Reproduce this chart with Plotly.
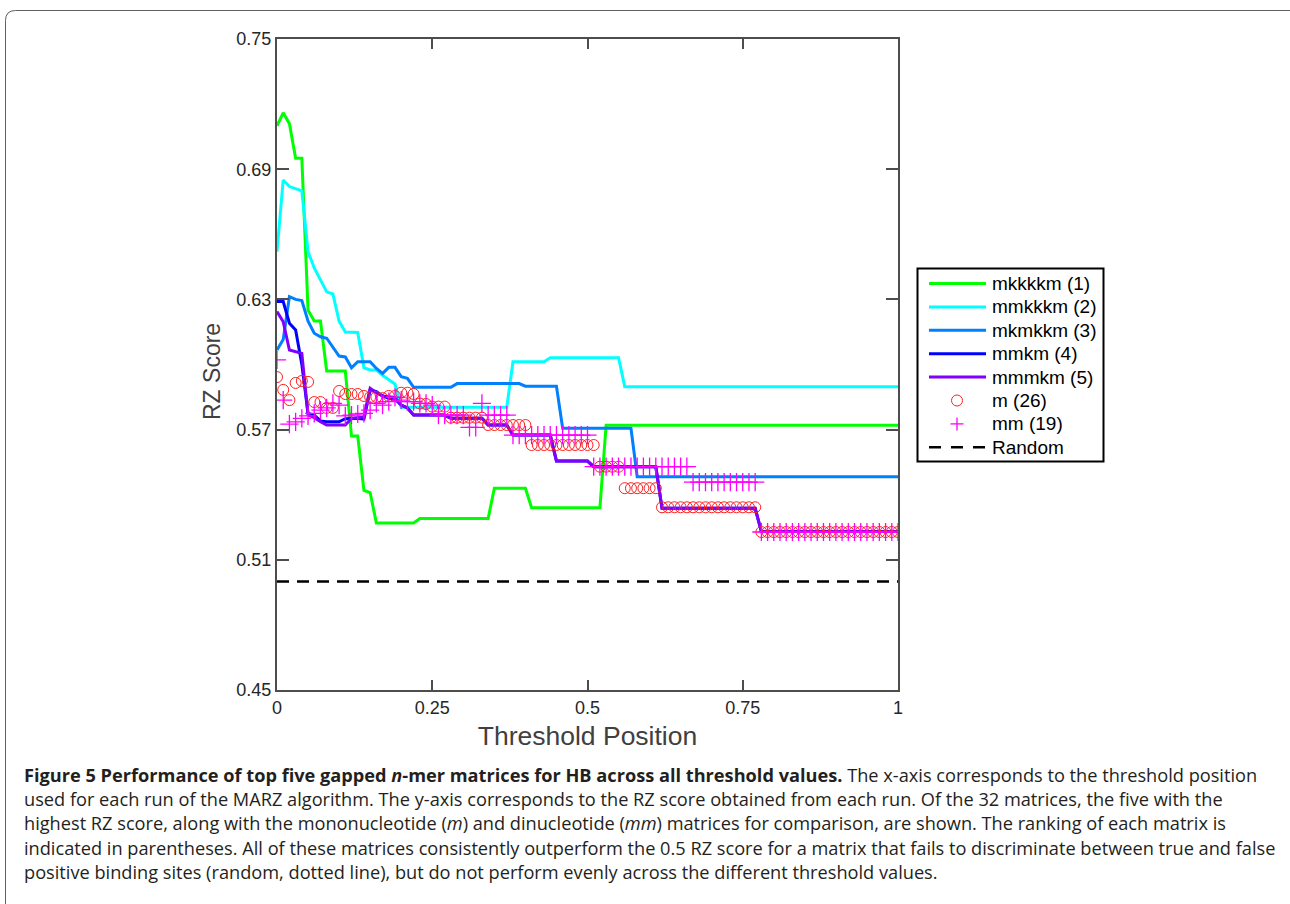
import plotly.graph_objects as go

# Threshold positions (x grid, 0.00 .. 1.00 in steps of 0.01)
threshold = [round(i / 100, 2) for i in range(101)]

# RZ score per threshold position for each matrix
mkkkkm = [
    0.710, 0.716, 0.711, 0.695, 0.695, 0.625, 0.620, 0.620, 0.597, 0.597,
    0.597, 0.597, 0.567, 0.567, 0.542, 0.541, 0.527, 0.527, 0.527, 0.527,
    0.527, 0.527, 0.527, 0.529, 0.529, 0.529, 0.529, 0.529, 0.529, 0.529,
    0.529, 0.529, 0.529, 0.529, 0.529, 0.543, 0.543, 0.543, 0.543, 0.543,
    0.543, 0.534, 0.534, 0.534, 0.534, 0.534, 0.534, 0.534, 0.534, 0.534,
    0.534, 0.534, 0.534, 0.572, 0.572, 0.572, 0.572, 0.572, 0.572, 0.572,
    0.572, 0.572, 0.572, 0.572, 0.572, 0.572, 0.572, 0.572, 0.572, 0.572,
    0.572, 0.572, 0.572, 0.572, 0.572, 0.572, 0.572, 0.572, 0.572, 0.572,
    0.572, 0.572, 0.572, 0.572, 0.572, 0.572, 0.572, 0.572, 0.572, 0.572,
    0.572, 0.572, 0.572, 0.572, 0.572, 0.572, 0.572, 0.572, 0.572, 0.572,
    0.572,
]

mmkkkm = [
    0.652, 0.685, 0.682, 0.681, 0.680, 0.652, 0.6445, 0.639, 0.6335, 0.6325,
    0.620, 0.615, 0.615, 0.6148, 0.5985, 0.5975, 0.5975, 0.595, 0.593, 0.591,
    0.5803, 0.5803, 0.5803, 0.5803, 0.5803, 0.5803, 0.5803, 0.5803, 0.5803, 0.5803,
    0.5803, 0.5803, 0.5803, 0.5803, 0.5803, 0.5803, 0.5803, 0.5803, 0.6013, 0.6013,
    0.6013, 0.6013, 0.6013, 0.6013, 0.6031, 0.6031, 0.6031, 0.6031, 0.6031, 0.6031,
    0.6031, 0.6031, 0.6031, 0.6031, 0.6031, 0.6031, 0.5898, 0.5898, 0.5898, 0.5898,
    0.5898, 0.5898, 0.5898, 0.5898, 0.5898, 0.5898, 0.5898, 0.5898, 0.5898, 0.5898,
    0.5898, 0.5898, 0.5898, 0.5898, 0.5898, 0.5898, 0.5898, 0.5898, 0.5898, 0.5898,
    0.5898, 0.5898, 0.5898, 0.5898, 0.5898, 0.5898, 0.5898, 0.5898, 0.5898, 0.5898,
    0.5898, 0.5898, 0.5898, 0.5898, 0.5898, 0.5898, 0.5898, 0.5898, 0.5898, 0.5898,
    0.5898,
]

mkmkkm = [
    0.6067, 0.6115, 0.6313, 0.6300, 0.6295, 0.6200, 0.6144, 0.6128, 0.6121, 0.6080,
    0.6039, 0.6035, 0.5985, 0.6013, 0.6013, 0.6013, 0.5982, 0.5959, 0.5987, 0.5987,
    0.5944, 0.5936, 0.5895, 0.5895, 0.5895, 0.5895, 0.5895, 0.5895, 0.5895, 0.5912,
    0.5912, 0.5912, 0.5912, 0.5912, 0.5912, 0.5912, 0.5912, 0.5912, 0.5912, 0.5912,
    0.5900, 0.5900, 0.5900, 0.5900, 0.5900, 0.5900, 0.5706, 0.5706, 0.5706, 0.5706,
    0.5706, 0.5706, 0.5706, 0.5706, 0.5706, 0.5706, 0.5706, 0.5706, 0.5483, 0.5483,
    0.5483, 0.5483, 0.5483, 0.5483, 0.5483, 0.5483, 0.5483, 0.5483, 0.5483, 0.5483,
    0.5483, 0.5483, 0.5483, 0.5483, 0.5483, 0.5483, 0.5483, 0.5483, 0.5483, 0.5483,
    0.5483, 0.5483, 0.5483, 0.5483, 0.5483, 0.5483, 0.5483, 0.5483, 0.5483, 0.5483,
    0.5483, 0.5483, 0.5483, 0.5483, 0.5483, 0.5483, 0.5483, 0.5483, 0.5483, 0.5483,
    0.5483,
]

mmkm = [
    0.629, 0.629, 0.619, 0.6159, 0.600, 0.5775, 0.5767, 0.5740, 0.5736, 0.5736,
    0.5736, 0.5750, 0.5752, 0.5752, 0.5748, 0.5883, 0.5875, 0.5855, 0.5844, 0.5840,
    0.5813, 0.5800, 0.5767, 0.5767, 0.5767, 0.5767, 0.5767, 0.5767, 0.5752, 0.5752,
    0.5752, 0.5752, 0.5752, 0.5752, 0.5721, 0.5721, 0.5721, 0.5721, 0.5675, 0.5675,
    0.5675, 0.5675, 0.5675, 0.5675, 0.5675, 0.5555, 0.5555, 0.5555, 0.5555, 0.5555,
    0.5555, 0.5529, 0.5529, 0.5529, 0.5529, 0.5529, 0.5529, 0.5529, 0.5529, 0.5529,
    0.5529, 0.5529, 0.5337, 0.5337, 0.5337, 0.5337, 0.5337, 0.5337, 0.5337, 0.5337,
    0.5337, 0.5337, 0.5337, 0.5337, 0.5337, 0.5337, 0.5337, 0.5337, 0.5230, 0.5230,
    0.5230, 0.5230, 0.5230, 0.5230, 0.5230, 0.5230, 0.5230, 0.5230, 0.5230, 0.5230,
    0.5230, 0.5230, 0.5230, 0.5230, 0.5230, 0.5230, 0.5230, 0.5230, 0.5230, 0.5230,
    0.5230,
]

mmmkm = [
    0.6244, 0.6197, 0.6067, 0.6060, 0.6051, 0.5767, 0.5755, 0.5736, 0.5721, 0.5721,
    0.5721, 0.5721, 0.5752, 0.5755, 0.5759, 0.5890, 0.5870, 0.5855, 0.5850, 0.5848,
    0.5813, 0.5800, 0.5767, 0.5767, 0.5767, 0.5767, 0.5767, 0.5767, 0.5752, 0.5752,
    0.5752, 0.5752, 0.5752, 0.5752, 0.5721, 0.5721, 0.5721, 0.5721, 0.5675, 0.5675,
    0.5675, 0.5675, 0.5675, 0.5675, 0.5675, 0.5555, 0.5555, 0.5555, 0.5555, 0.5555,
    0.5555, 0.5529, 0.5529, 0.5529, 0.5529, 0.5529, 0.5529, 0.5529, 0.5529, 0.5529,
    0.5529, 0.5529, 0.5337, 0.5337, 0.5337, 0.5337, 0.5337, 0.5337, 0.5337, 0.5337,
    0.5337, 0.5337, 0.5337, 0.5337, 0.5337, 0.5337, 0.5337, 0.5337, 0.5230, 0.5230,
    0.5230, 0.5230, 0.5230, 0.5230, 0.5230, 0.5230, 0.5230, 0.5230, 0.5230, 0.5230,
    0.5230, 0.5230, 0.5230, 0.5230, 0.5230, 0.5230, 0.5230, 0.5230, 0.5230, 0.5230,
    0.5230,
]

m_26 = [
    0.5942, 0.5883, 0.5836, 0.5915, 0.5924, 0.5920, 0.5827, 0.5827, 0.5800, 0.5800,
    0.5878, 0.5864, 0.5864, 0.5864, 0.5855, 0.5850, 0.5850, 0.5845, 0.5855, 0.5855,
    0.5870, 0.5870, 0.5864, 0.5820, 0.5818, 0.5806, 0.5806, 0.5806, 0.5755, 0.5755,
    0.5755, 0.5755, 0.5755, 0.5755, 0.5721, 0.5721, 0.5721, 0.5721, 0.5721, 0.5721,
    0.5721, 0.5629, 0.5629, 0.5629, 0.5629, 0.5629, 0.5629, 0.5629, 0.5629, 0.5629,
    0.5629, 0.5629, 0.5529, 0.5529, 0.5529, 0.5529, 0.5430, 0.5430, 0.5430, 0.5430,
    0.5430, 0.5430, 0.5342, 0.5342, 0.5342, 0.5342, 0.5342, 0.5342, 0.5342, 0.5342,
    0.5342, 0.5342, 0.5342, 0.5342, 0.5342, 0.5342, 0.5342, 0.5342, 0.5228, 0.5228,
    0.5228, 0.5228, 0.5228, 0.5228, 0.5228, 0.5228, 0.5228, 0.5228, 0.5228, 0.5228,
    0.5228, 0.5228, 0.5228, 0.5228, 0.5228, 0.5228, 0.5228, 0.5228, 0.5228, 0.5228,
    0.5228,
]

mm_19 = [
    0.6021, 0.5836, 0.5725, 0.5736, 0.5752, 0.5763, 0.5775, 0.5790, 0.5800, 0.5821,
    0.5813, 0.5763, 0.5767, 0.5772, 0.5775, 0.5790, 0.5821, 0.5813, 0.5829, 0.5849,
    0.5836, 0.5829, 0.5829, 0.5821, 0.5821, 0.5813, 0.5767, 0.5767, 0.5767, 0.5767,
    0.5767, 0.5710, 0.5710, 0.5821, 0.5767, 0.5767, 0.5767, 0.5767, 0.5675, 0.5675,
    0.5675, 0.5675, 0.5675, 0.5675, 0.5675, 0.5675, 0.5675, 0.5675, 0.5675, 0.5675,
    0.5675, 0.5529, 0.5529, 0.5529, 0.5529, 0.5529, 0.5529, 0.5529, 0.5529, 0.5529,
    0.5529, 0.5529, 0.5529, 0.5529, 0.5529, 0.5529, 0.5529, 0.5458, 0.5458, 0.5458,
    0.5458, 0.5458, 0.5458, 0.5458, 0.5458, 0.5458, 0.5458, 0.5458, 0.5228, 0.5228,
    0.5228, 0.5228, 0.5228, 0.5228, 0.5228, 0.5228, 0.5228, 0.5228, 0.5228, 0.5228,
    0.5228, 0.5228, 0.5228, 0.5228, 0.5228, 0.5228, 0.5228, 0.5228, 0.5228, 0.5228,
    0.5228,
]

random_x = [0, 1]
random_y = [0.5, 0.5]

x_ticks = [0, 0.25, 0.5, 0.75, 1]
x_ticklabels = ["0", "0.25", "0.5", "0.75", "1"]
y_ticks = [0.45, 0.51, 0.57, 0.63, 0.69, 0.75]
y_ticklabels = ["0.45", "0.51", "0.57", "0.63", "0.69", "0.75"]

caption_lines = [
    "<b>Figure 5 Performance of top five gapped <i>n</i>-mer matrices for HB across all threshold values.</b>"
    " The x-axis corresponds to the threshold position",
    "used for each run of the MARZ algorithm. The y-axis corresponds to the RZ score obtained from each run."
    " Of the 32 matrices, the five with the",
    "highest RZ score, along with the mononucleotide (<i>m</i>) and dinucleotide (<i>mm</i>) matrices"
    " for comparison, are shown. The ranking of each matrix is",
    "indicated in parentheses. All of these matrices consistently outperform the 0.5 RZ score for a matrix"
    " that fails to discriminate between true and false",
    "positive binding sites (random, dotted line), but do not perform evenly across the different threshold values.",
]

RED = "#ff2020"
MAGENTA = "#ff00ff"
line_series = [
    ("mkkkkm (1)", mkkkkm, "#00ff00"),
    ("mmkkkm (2)", mmkkkm, "#00ffff"),
    ("mkmkkm (3)", mkmkkm, "#0080ff"),
    ("mmkm (4)", mmkm, "#0000ff"),
    ("mmmkm (5)", mmmkm, "#8000ff"),
]

fig = go.Figure()

for name, values, color in line_series:
    fig.add_trace(go.Scatter(
        x=threshold, y=values, name=name, mode="lines",
        line=dict(color=color, width=3),
    ))

fig.add_trace(go.Scatter(
    x=threshold, y=m_26, name="m (26)", mode="markers",
    marker=dict(symbol="circle-open", size=11, color=RED,
                line=dict(width=1, color=RED)),
))
fig.add_trace(go.Scatter(
    x=threshold, y=mm_19, name="mm (19)", mode="markers",
    marker=dict(symbol="cross-thin-open", size=13, color=MAGENTA,
                line=dict(width=1.3, color=MAGENTA)),
))
fig.add_trace(go.Scatter(
    x=random_x, y=random_y, name="Random", mode="lines",
    line=dict(color="black", width=2.5, dash="12px,8px"),
))

axis_font = dict(family="Liberation Sans, Arial, sans-serif", size=18, color="#262626")
fig.update_xaxes(
    range=[0, 1], tickvals=x_ticks, ticktext=x_ticklabels,
    ticks="inside", ticklen=10, tickwidth=1.5, tickcolor="#4d4d4d",
    showline=True, linewidth=2, linecolor="#4d4d4d", mirror="ticks",
    showgrid=False, zeroline=False, tickfont=axis_font,
    title=dict(text="Threshold Position", standoff=10,
               font=dict(family="Liberation Sans, Arial, sans-serif", size=26.5, color="#404040")),
)
fig.update_yaxes(
    range=[0.45, 0.75], tickvals=y_ticks, ticktext=y_ticklabels,
    ticks="inside", ticklen=12, tickwidth=1.5, tickcolor="#4d4d4d",
    showline=True, linewidth=2, linecolor="#4d4d4d", mirror="ticks",
    showgrid=False, zeroline=False, tickfont=axis_font,
)


def px_x(px):
    """Horizontal pixel position -> paper coordinate."""
    return (px - 277) / 621


def px_y(py):
    """Vertical pixel position -> paper coordinate."""
    return (690 - py) / 651


# y-axis title, rotated
fig.add_annotation(xref="paper", yref="paper", x=px_x(212), y=px_y(372),
                   xanchor="center", yanchor="middle", textangle=-90,
                   text="RZ Score", showarrow=False,
                   font=dict(family="Liberation Sans, Arial, sans-serif", size=23, color="#404040"))

# outer figure frame with a rounded top-left corner
frame_path = (
    f"M {px_x(5.5)},{px_y(915)} L {px_x(5.5)},{px_y(20.5)} "
    f"Q {px_x(5.5)},{px_y(10.5)} {px_x(15.5)},{px_y(10.5)} L {px_x(1300)},{px_y(10.5)}"
)
fig.add_shape(type="path", xref="paper", yref="paper", path=frame_path,
              line=dict(color="#606060", width=1))

# legend box drawn in pixel units next to the axes
legend_names = [s[0] for s in line_series] + ["m (26)", "mm (19)", "Random"]
legend_rows = [283.5, 306.9, 330.3, 353.7, 377.1, 400.5, 423.9, 447.3]
fig.add_shape(type="rect", xref="paper", yref="paper",
              x0=px_x(917.5), x1=px_x(1103.5), y0=px_y(461.5), y1=px_y(268.5),
              line=dict(color="black", width=2), fillcolor="white", layer="above")
for i, (name, values, color) in enumerate(line_series):
    yy = px_y(legend_rows[i])
    fig.add_shape(type="line", xref="paper", yref="paper",
                  x0=px_x(929), x1=px_x(986), y0=yy, y1=yy,
                  line=dict(color=color, width=3), layer="above")
cx = px_x(957)
fig.add_shape(type="circle", xref="paper", yref="paper", xsizemode="pixel", ysizemode="pixel",
              xanchor=cx, yanchor=px_y(legend_rows[5]), x0=-5.5, x1=5.5, y0=-5.5, y1=5.5,
              line=dict(color=RED, width=1), layer="above")
for dx0, dx1, dy0, dy1 in [(-6.5, 6.5, 0, 0), (0, 0, -6.5, 6.5)]:
    fig.add_shape(type="line", xref="paper", yref="paper", xsizemode="pixel", ysizemode="pixel",
                  xanchor=cx, yanchor=px_y(legend_rows[6]), x0=dx0, x1=dx1, y0=dy0, y1=dy1,
                  line=dict(color=MAGENTA, width=1.3), layer="above")
fig.add_shape(type="line", xref="paper", yref="paper",
              x0=px_x(929), x1=px_x(986), y0=px_y(legend_rows[7]), y1=px_y(legend_rows[7]),
              line=dict(color="black", width=2.5, dash="12px,10px"), layer="above")
for name, row in zip(legend_names, legend_rows):
    fig.add_annotation(xref="paper", yref="paper", x=px_x(990), y=px_y(row),
                       xanchor="left", yanchor="middle", text=name, showarrow=False,
                       font=dict(family="Liberation Sans, Arial, sans-serif", size=19, color="black"))

caption_rows = [775, 799, 823, 848, 872]
for text, row in zip(caption_lines, caption_rows):
    fig.add_annotation(
        xref="paper", yref="paper", x=px_x(22), y=px_y(row), xanchor="left", yanchor="middle",
        text=text, showarrow=False, align="left",
        font=dict(family="Open Sans, sans-serif", size=18.2, color="#231f20"),
    )

fig.update_layout(
    width=1290, height=904,
    margin=dict(l=277, r=392, t=39, b=214),
    paper_bgcolor="white", plot_bgcolor="white",
    showlegend=False,
)

fig.write_html("out.html")
